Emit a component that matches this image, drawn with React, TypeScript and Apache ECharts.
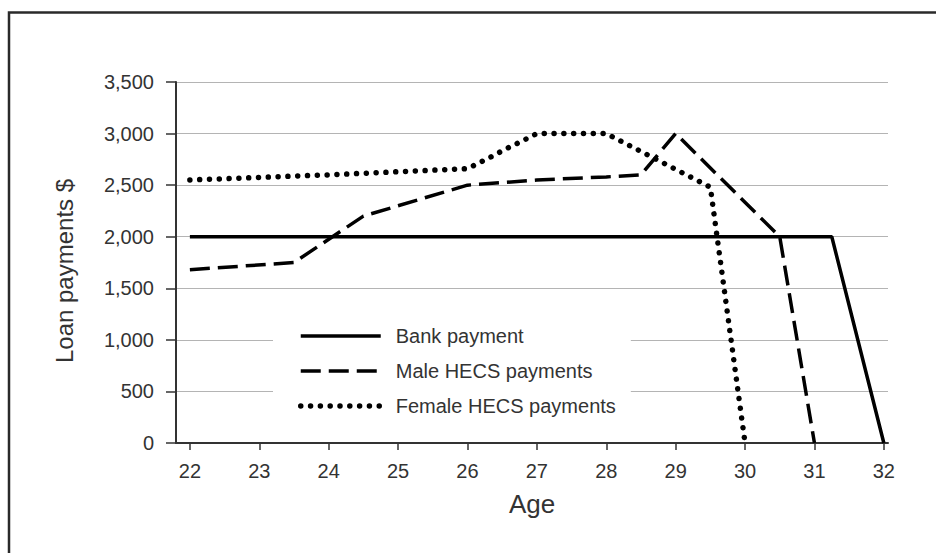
import React, { useEffect, useRef } from "react";
import * as echarts from "echarts";

const ageTicks = [22, 23, 24, 25, 26, 27, 28, 29, 30, 31, 32];
const yTickValues = [0, 500, 1000, 1500, 2000, 2500, 3000, 3500];

const bankAges = [22, 31.25, 32];
const bankValues = [2000, 2000, 0];

const maleAges = [22, 23.5, 24.5, 26, 27, 28, 28.5, 29, 30.5, 31];
const maleValues = [1680, 1750, 2200, 2500, 2550, 2580, 2600, 3000, 2000, 0];

const femaleAges = [22, 24, 26, 26.3, 26.55, 26.75, 27, 28, 29.5, 30];
const femaleValues = [2550, 2600, 2660, 2760, 2850, 2915, 3000, 3000, 2480, 0];

const seriesNames = ["Bank payment", "Male HECS payments", "Female HECS payments"];
const yTitle = "Loan payments $";
const xTitle = "Age";

const zip = (xs: number[], ys: number[]) => xs.map((x, i) => [x, ys[i]]);

const FONT = "'Liberation Sans', Arial, Helvetica, sans-serif";
const TEXT = "#333";

export default function App() {
  const ref = useRef<HTMLDivElement>(null);
  useEffect(() => {
    if (!ref.current) return;
    const chart = echarts.init(ref.current, null, { renderer: "svg" });
    chart.setOption({
      animation: false,
      backgroundColor: "#fff",
      textStyle: { fontFamily: FONT },
      grid: { left: 176, right: 48, top: 82, bottom: 110, outerBoundsMode: "none" },
      graphic: [
        {
          type: "rect",
          shape: { x: 9, y: 12.5, width: 1200, height: 1200 },
          style: { fill: "none", stroke: "#2a2a2a", lineWidth: 2.5 },
          silent: true,
        },
        {
          type: "text",
          x: 64,
          y: 271,
          rotation: Math.PI / 2,
          silent: true,
          style: {
            text: yTitle,
            fontSize: 24,
            fontFamily: FONT,
            fill: TEXT,
            align: "center",
            verticalAlign: "middle",
          },
        },
      ],
      legend: {
        orient: "vertical",
        left: 273,
        top: 318,
        padding: [8, 15, 8, 25],
        backgroundColor: "#fff",
        itemWidth: 80,
        itemHeight: 20,
        itemGap: 15,
        data: seriesNames,
        itemStyle: { opacity: 0 },
        lineStyle: { width: "inherit", type: "inherit", cap: "inherit" },
        textStyle: { fontSize: 20, color: TEXT, fontFamily: FONT, lineHeight: 20, padding: [0, 0, 0, 10] },
      },
      xAxis: {
        type: "value",
        min: 21.8,
        max: 32.06,
        name: xTitle,
        nameLocation: "middle",
        nameGap: 48,
        nameTextStyle: { fontSize: 26, color: TEXT, fontFamily: FONT },
        axisLine: { show: true, lineStyle: { color: "#333", width: 2 } },
        axisTick: { show: true, length: 7, customValues: ageTicks, lineStyle: { color: "#333", width: 1.5 } },
        axisLabel: { customValues: ageTicks, fontSize: 20, color: TEXT, margin: 18, fontFamily: FONT },
        splitLine: { show: false },
      },
      yAxis: {
        type: "value",
        min: 0,
        max: 3500,
        interval: 500,
        axisLine: { show: true, lineStyle: { color: "#333", width: 2 } },
        axisTick: { show: true, length: 10, lineStyle: { color: "#333", width: 1.5 } },
        axisLabel: {
          fontSize: 20,
          color: TEXT,
          margin: 22,
          fontFamily: FONT,
          formatter: (v: number) => (yTickValues.includes(v) ? v.toLocaleString("en-US") : ""),
        },
        splitLine: { show: true, lineStyle: { color: "#b4b4b4", width: 1.2 } },
      },
      series: [
        {
          name: seriesNames[0],
          type: "line",
          symbol: "none",
          itemStyle: { color: "#000", opacity: 0 },
          data: zip(bankAges, bankValues),
          lineStyle: { color: "#000", width: 3.5, type: "solid" },
          z: 3,
        },
        {
          name: seriesNames[1],
          type: "line",
          symbol: "none",
          itemStyle: { color: "#000", opacity: 0 },
          data: zip(maleAges, maleValues),
          lineStyle: { color: "#000", width: 3.5, type: [20, 8] },
          z: 3,
        },
        {
          name: seriesNames[2],
          type: "line",
          symbol: "none",
          itemStyle: { color: "#000", opacity: 0 },
          data: zip(femaleAges, femaleValues),
          lineStyle: { color: "#000", width: 5.5, type: [0.01, 9.8], cap: "round", join: "round" },
          z: 3,
        },
      ],
    });
    return () => chart.dispose();
  }, []);
  return (
    <div
      ref={ref}
      style={{ position: "absolute", left: 0, top: 0, width: 936, height: 553, background: "#fff" }}
    />
  );
}
